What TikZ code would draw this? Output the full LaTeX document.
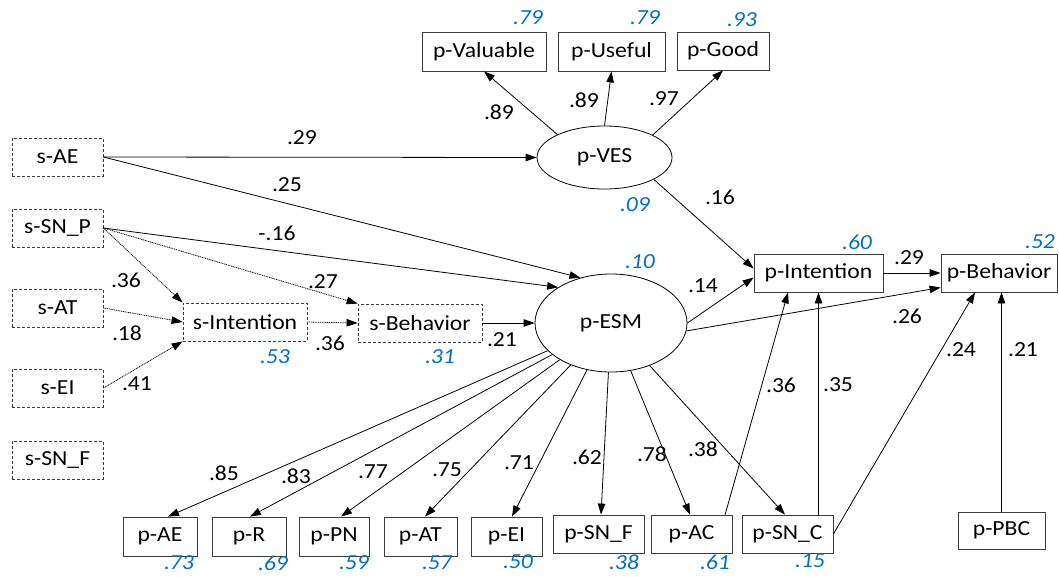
\documentclass[tikz,border=0pt]{standalone}
\usepackage{fontspec}
\setmainfont{Carlito}[FakeStretch=1.1]
\usetikzlibrary{arrows.meta,calc,shapes.geometric}
\definecolor{rblue}{RGB}{0,112,192}
\definecolor{bordergray}{RGB}{60,60,60}
\begin{document}
\begin{tikzpicture}[x=1pt,y=-1pt,
  every node/.style={font=\fontsize{21.5}{24}\selectfont},
  pbox/.style={draw=bordergray,line width=0.8pt,rectangle,inner sep=0pt,minimum height=38pt,fill=white},
  sbox/.style={draw=bordergray,line width=0.8pt,dash pattern=on 3pt off 2pt,rectangle,inner sep=0pt,minimum height=38pt,minimum width=91pt},
  latent/.style={draw=black,line width=0.8pt,ellipse,inner sep=0pt},
  arr/.style={line width=0.8pt,-{Triangle[length=11pt,width=7.5pt]}},
  darr/.style={arr,dash pattern=on 1pt off 0.8pt},
  lbl/.style={inner sep=0pt,text=black},
  r2/.style={inner sep=0pt,text=rblue,font=\fontsize{21.5}{24}\selectfont\itshape}
]
\useasboundingbox (0,0) rectangle (1059,576);
\fill[white] (0,0) rectangle (1059,576);

% latent variables
\node[latent,minimum width=135pt,minimum height=63pt] (ves) at (604.5,157.5) {p-VES};
\node[latent,minimum width=152pt,minimum height=98pt] (esm) at (611,323) {p-ESM};

% s- boxes
\node[sbox] (sae)  at (57.5,157) {s-AE};
\node[sbox] (ssnp) at (57.5,228) {s-SN\_P};
\node[sbox] (sat)  at (57.5,308) {s-AT};
\node[sbox] (sei)  at (57.5,388) {s-EI};
\node[sbox] (ssnf) at (57.5,460) {s-SN\_F};
\node[sbox,minimum width=124pt] (sint) at (245,322) {s-Intention};
\node[sbox,minimum width=124pt] (sbeh) at (420,323) {s-Behavior};

% top boxes
\node[pbox,minimum width=124pt,minimum height=39pt] (pval)  at (484,51.5) {p-Valuable};
\node[pbox,minimum width=107pt,minimum height=39pt] (puse)  at (611.5,51.5) {p-Useful};
\node[pbox,minimum width=92pt] (pgood) at (723,51) {p-Good};

% outcome boxes
\node[pbox,minimum width=129pt] (pint) at (818.5,273) {p-Intention};
\node[pbox,minimum width=116pt] (pbeh) at (999,273) {p-Behavior};

% bottom boxes
\node[pbox,minimum width=74pt,minimum height=39pt] (pae)  at (160,536.5) {p-AE};
\node[pbox,minimum width=74pt,minimum height=39pt] (pr)   at (249,536.5) {p-R};
\node[pbox,minimum width=70pt,minimum height=39pt] (ppn)  at (334,536.5) {p-PN};
\node[pbox,minimum width=73pt,minimum height=39pt] (pat)  at (420.5,536.5) {p-AT};
\node[pbox,minimum width=71pt,minimum height=39pt] (pei)  at (506.5,536.5) {p-EI};
\node[pbox,minimum width=91pt] (psnf) at (598.5,534) {p-SN\_F};
\node[pbox,minimum width=81pt] (pac)  at (691.5,534) {p-AC};
\node[pbox,minimum width=91pt] (psnc) at (787.5,534) {p-SN\_C};
\node[pbox,minimum width=87pt,minimum height=37pt] (ppbc) at (1001.5,530.5) {p-PBC};

% s- paths
\draw[arr] (sae.east) -- (ves.west);
\draw[arr] (sae.east) -- (esm.124.6);
\draw[arr] (ssnp.east) -- (esm.146.6);
\draw[darr] (ssnp.east) -- (sint.north west);
\draw[darr] (ssnp.east) -- (sbeh.north west);
\draw[darr] (sat.east) -- (sint.west);
\draw[darr] (sei.east) -- (sint.south west);
\draw[darr] (sint.east) -- (sbeh.west);
\draw[arr] (sbeh.east) -- (esm.west);

% p-VES paths
\draw[arr] (ves.154) -- (pval.south);
\draw[arr] (ves.north) -- (puse.south);
\draw[arr] (ves.25.4) -- (pgood.south);
\draw[arr] (ves.-24.4) -- (pint.176);

% p-ESM paths
\draw[arr] (esm.east) -- (pint.184);
\draw[arr] (esm.-6) -- (pbeh.194.5);
\draw[arr] (pint.east) -- (pbeh.west);
\draw[arr] (esm) -- ($(pae.north)+(8,0)$);
\draw[arr] (esm) -- ($(pr.north)+(1,0)$);
\draw[arr] (esm) -- ($(ppn.north)+(7,0)$);
\draw[arr] (esm) -- ($(pat.north)+(4.5,0)$);
\draw[arr] (esm) -- ($(pei.north)+(5.5,0)$);
\draw[arr] (esm) -- ($(psnf.north)+(2.5,0)$);
\draw[arr] (esm) -- ($(pac.north)+(-1.5,0)$);
\draw[arr] (esm) -- ($(psnc.north)+(-2.5,0)$);

% predictors of outcomes
\draw[arr] (pac.30.3) -- ($(pint.south)+(-30.5,0)$);
\draw[arr] (pint.south |- psnc.north) -- (pint.south);
\draw[arr] (psnc.east) -- ($(pbeh.south)+(-24,0)$);
\draw[arr] (ppbc.north) -- (ppbc.north |- pbeh.south);

% path labels
\node[lbl] (l1)  at (302,138) {.29};
\node[lbl] (l2)  at (287,185) {.25};
\node[lbl] (l3)  at (277,233) {-.16};
\node[lbl] (l4)  at (126,280) {.36};
\node[lbl] (l5)  at (323,282) {.27};
\node[lbl] (l6)  at (127,333) {.18};
\node[lbl] (l7)  at (137,384) {.41};
\node[lbl] (l8)  at (330,343) {.36};
\node[lbl] (l9)  at (502,340) {.21};
\node[lbl] (l10) at (499,112) {.89};
\node[lbl] (l11) at (584,100) {.89};
\node[lbl] (l12) at (664,99) {.97};
\node[lbl] (l13) at (720,197) {.16};
\node[lbl] (l14) at (703,286) {.14};
\node[lbl] (l15) at (909,258) {.29};
\node[lbl] (l16) at (907,316) {.26};
\node[lbl] (l17) at (781,385) {.36};
\node[lbl] (l18) at (838,385) {.35};
\node[lbl] (l19) at (961,350) {.24};
\node[lbl] (l20) at (1023,350) {.21};
\node[lbl] (l21) at (224,473) {.85};
\node[lbl] (l22) at (296,476) {.83};
\node[lbl] (l23) at (373,472) {.77};
\node[lbl] (l24) at (447,470) {.75};
\node[lbl] (l25) at (519,463) {.71};
\node[lbl] (l26) at (587,457) {.62};
\node[lbl] (l27) at (652,454) {.78};
\node[lbl] (l28) at (703,449) {.38};

% R-squared labels
\node[r2] (q1)  at (528,18) {.79};
\node[r2] (q2)  at (645,18) {.79};
\node[r2] (q3)  at (742,20) {.93};
\node[r2] (q4)  at (635,205) {.09};
\node[r2] (q5)  at (640,262) {.10};
\node[r2] (q6)  at (857,242) {.60};
\node[r2] (q7)  at (1040,242) {.52};
\node[r2] (q8)  at (275,357) {.53};
\node[r2] (q9)  at (440,357) {.31};
\node[r2] (q10) at (179,563) {.73};
\node[r2] (q11) at (273,563) {.69};
\node[r2] (q12) at (354,563) {.59};
\node[r2] (q13) at (437,563) {.57};
\node[r2] (q14) at (518,562) {.50};
\node[r2] (q15) at (624,562) {.38};
\node[r2] (q16) at (715,562) {.61};
\node[r2] (q17) at (810,561) {.15};
\end{tikzpicture}
\end{document}
